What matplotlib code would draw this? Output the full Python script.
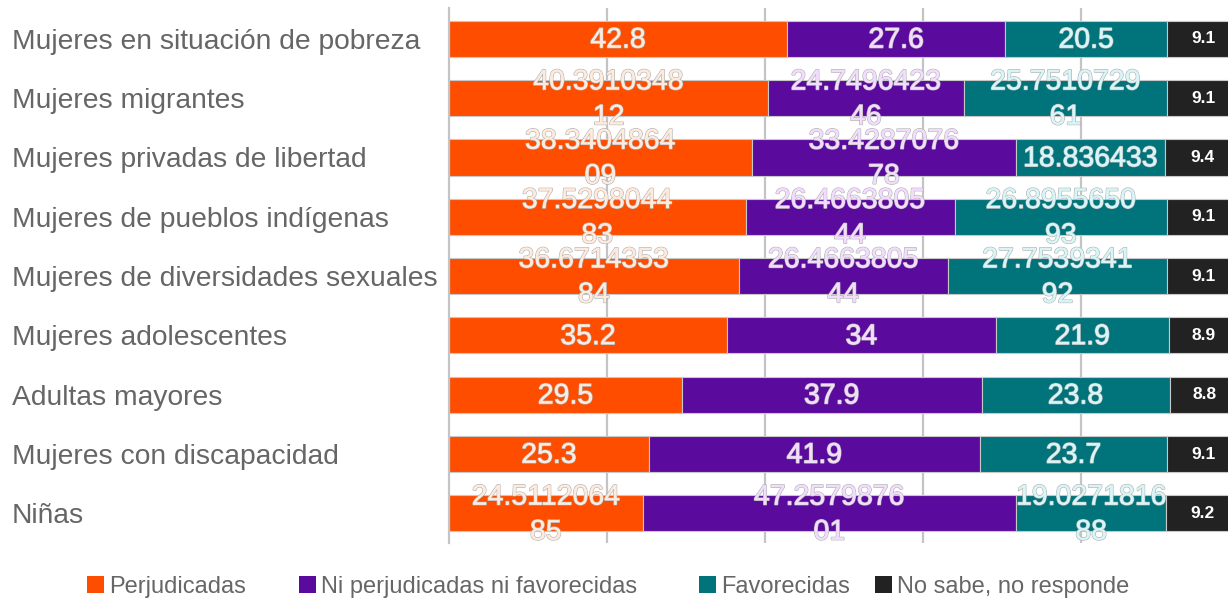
import matplotlib
matplotlib.use("Agg")
import matplotlib.pyplot as plt
import matplotlib.patheffects as pe
from matplotlib.patches import Patch
import numpy as np

plt.rcParams['font.family'] = ['Liberation Sans', 'DejaVu Sans']

categories = [
    "Mujeres en situación de pobreza",
    "Mujeres migrantes",
    "Mujeres privadas de libertad",
    "Mujeres de pueblos indígenas",
    "Mujeres de diversidades sexuales",
    "Mujeres adolescentes",
    "Adultas mayores",
    "Mujeres con discapacidad",
    "Niñas",
]
series_names = ["Perjudicadas", "Ni perjudicadas ni favorecidas", "Favorecidas", "No sabe, no responde"]
perjudicadas = [42.8, 40.391034812, 38.340486409, 37.529804483, 36.671435384, 35.2, 29.5, 25.3, 24.511206485]
ni_ni = [27.6, 24.749642346, 33.428707678, 26.466380544, 26.466380544, 34, 37.9, 41.9, 47.257987601]
favorecidas = [20.5, 25.751072961, 18.836433, 26.895565093, 27.753934192, 21.9, 23.8, 23.7, 19.027181688]
no_sabe = [9.1, 9.1, 9.4, 9.1, 9.1, 8.9, 8.8, 9.1, 9.2]

colors = ["#FF4D00", "#5B0A9E", "#00737B", "#222222"]
text_colors = ["#FFEBDD", "#F3DDFF", "#D8F6F8", "#FFFFFF"]

fig = plt.figure(figsize=(12.28, 5.99), dpi=100)
ax = fig.add_axes([449/1228, 1-543/599, 1-449/1228, (543-8)/599])

y = np.arange(len(categories))
left = np.zeros(len(categories))
data = [perjudicadas, ni_ni, favorecidas, no_sabe]

for gx in [20, 40, 60, 80]:
    ax.axvline(gx, color="#C4C4C4", lw=1.6, zorder=0)

for si, vals in enumerate(data):
    vals = np.array(vals, dtype=float)
    ax.barh(y, vals, left=left, height=0.61, color=colors[si],
            edgecolor="#C8C8C8", linewidth=0.8, zorder=2)
    for i, v in enumerate(vals):
        s = str(data[si][i])
        if len(s) > 10:
            s = s[:10] + "\n" + s[10:]
        cx = left[i] + v / 2
        if si == 3:
            ax.text(cx, y[i], s, ha="center", va="center", fontsize=12.5,
                    fontweight="bold", color=text_colors[si], zorder=4)
        else:
            t = ax.text(cx, y[i] + 0.03, s, ha="center", va="center", fontsize=20.5,
                        color=text_colors[si], linespacing=1.45, zorder=4)
            t.set_path_effects([pe.withStroke(linewidth=1.1, foreground="#B4B4B4"), pe.Normal()])
    left += vals

ax.set_xlim(0, 98.6)
ax.set_ylim(8.5, -0.52)
for sp in ["top", "right", "bottom"]:
    ax.spines[sp].set_visible(False)
ax.spines["left"].set_color("#C4C4C4")
ax.spines["left"].set_linewidth(1.6)
ax.set_xticks([])
ax.set_yticks(y)
ax.set_yticklabels(categories, fontsize=20.3, color="#666666", ha="left")
ax.tick_params(axis="y", length=0, pad=(449-12)*72/100)

# legend entries placed individually to match spacing
legend_x = [87, 299, 699, 875]
for name, c, lx in zip(series_names, colors, legend_x):
    fig.legend([Patch(facecolor=c, edgecolor="none")], [name], loc="center left",
               bbox_to_anchor=(lx/1228, 1-587/599), frameon=False, fontsize=17,
               handlelength=0.72, handleheight=0.72, handletextpad=0.2,
               labelcolor="#666666", borderpad=0, borderaxespad=0)

fig.savefig("out.png", dpi=100)
